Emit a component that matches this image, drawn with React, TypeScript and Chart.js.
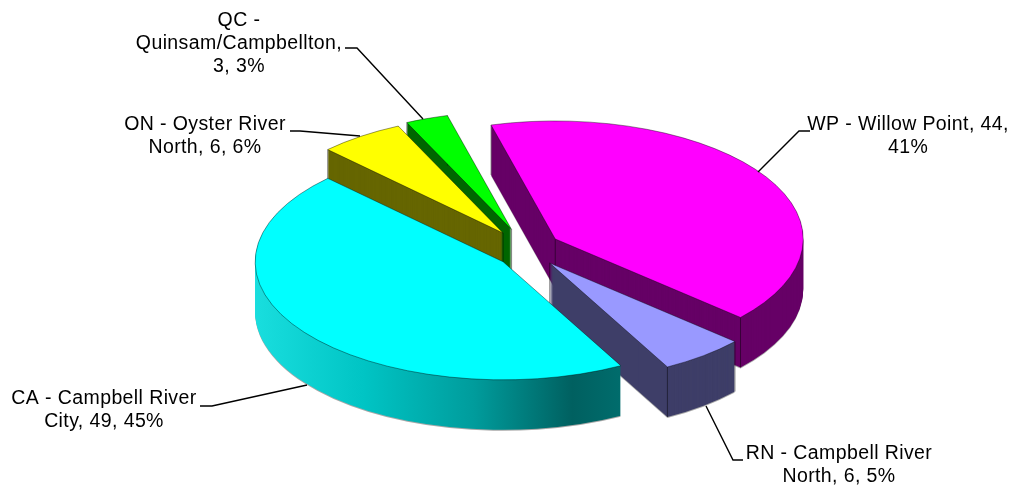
import React, { useEffect, useRef } from "react";
import { Chart, registerables } from "chart.js";

Chart.register(...registerables);

const categories = [
  "WP - Willow Point",
  "RN - Campbell River North",
  "CA - Campbell River City",
  "ON - Oyster River North",
  "QC - Quinsam/Campbellton",
];
const values = [44, 6, 49, 6, 3];
const percents = [41, 5, 45, 6, 3];
const topColors = ["#ff00ff", "#9999ff", "#00ffff", "#ffff00", "#00ff00"];
const sideColors = ["#660066", "#3e3e68", "#00a0a0", "#666600", "#006600"];
const labelLines = [
  [`WP - Willow Point, ${values[0]},`, `${percents[0]}%`],
  ["RN - Campbell River", `North, ${values[1]}, ${percents[1]}%`],
  ["CA - Campbell River", `City, ${values[2]}, ${percents[2]}%`],
  ["ON - Oyster River", `North, ${values[3]}, ${percents[3]}%`],
  ["QC -", "Quinsam/Campbellton,", `${values[4]}, ${percents[4]}%`],
];
// layout
const labelCenters = [
  [908, 125],
  [839, 454],
  [104, 399],
  [205, 125],
  [239, 21],
];
const leaders = [
  [[810, 131], [799, 131], [758, 172]],
  [[743, 460], [733, 460], [706, 406]],
  [[200, 406], [212, 406], [307, 385]],
  [[290, 131], [300, 131], [360, 136]],
  [[345, 48], [357, 48], [423, 119]],
];
const explode = [32, 35, 31, 43.5, 48];
const lift = [-4, -1, 2, -1, 0];
const drawOrder = [0, 4, 3, 1, 2];
const CX = 528;
const CY = 251;
const SQUASH = 0.476;
const DEPTH = 50;
const RADIUS = 248;

const pie3d = {
  id: "pie3d",
  beforeDatasetsDraw(chart: any) {
    const ctx = chart.ctx;
    const arcs = chart.getDatasetMeta(0).data;
    for (const i of drawOrder) {
      const arc = arcs[i];
      const orig = arc.options;
      const half = (arc.startAngle + arc.endAngle) / 2;
      const off = explode[i];
      const cy = CY + lift[i];
      const place = (d: number) => {
        ctx.translate(CX, cy + d);
        ctx.scale(1, SQUASH);
        ctx.translate(-arc.x, -arc.y);
        ctx.translate(Math.cos(half) * off, Math.sin(half) * off);
      };
      let side: any = sideColors[i];
      if (i === 2) {
        const shift = CX - arc.x + Math.cos(half) * off;
        const g = ctx.createLinearGradient(255 - shift, 0, 620 - shift, 0);
        g.addColorStop(0, "#19dede");
        g.addColorStop(0.3, "#00c4c4");
        g.addColorStop(0.6, "#009c9c");
        g.addColorStop(0.87, "#006060");
        g.addColorStop(1, "#006c6c");
        side = g;
      }
      const wall = (d: number, color: any) => {
        arc.options = { ...orig, backgroundColor: color, borderWidth: 0 };
        ctx.save();
        place(d);
        arc.draw(ctx);
        ctx.restore();
      };
      wall(DEPTH + 1, "#a8a8a8");
      for (let d = DEPTH; d >= 1; d--) wall(d, side);
      arc.options = orig;

      // vertical corner edges of the wedge wall
      if (i !== 2) {
        const ox = Math.cos(half) * off;
        const oy = Math.sin(half) * off;
        const corners = [
          [ox, oy],
          [ox + Math.cos(arc.startAngle) * RADIUS, oy + Math.sin(arc.startAngle) * RADIUS],
          [ox + Math.cos(arc.endAngle) * RADIUS, oy + Math.sin(arc.endAngle) * RADIUS],
        ];
        ctx.save();
        ctx.strokeStyle = "rgba(0,0,0,0.45)";
        ctx.lineWidth = 1;
        for (const [px, py] of corners) {
          const sx = CX + px;
          const sy = cy + py * SQUASH;
          ctx.beginPath();
          ctx.moveTo(sx, sy);
          ctx.lineTo(sx, sy + DEPTH);
          ctx.stroke();
        }
        ctx.restore();
      }

      ctx.save();
      place(0);
      arc.draw(ctx);
      ctx.restore();
    }
    return false;
  },
  afterDraw(chart: any) {
    const ctx = chart.ctx;
    ctx.save();
    ctx.strokeStyle = "#000000";
    ctx.lineWidth = 1.4;
    for (const pts of leaders) {
      ctx.beginPath();
      pts.forEach(([x, y], k) => (k ? ctx.lineTo(x, y) : ctx.moveTo(x, y)));
      ctx.stroke();
    }
    ctx.fillStyle = "#000000";
    ctx.font = '19.5px "Liberation Sans"';
    ctx.textAlign = "center";
    ctx.textBaseline = "middle";
    ctx.letterSpacing = "0.4px";
    labelLines.forEach((lines, i) => {
      lines.forEach((line, k) => {
        ctx.fillText(line, labelCenters[i][0], labelCenters[i][1] + k * 23);
      });
    });
    ctx.restore();
  },
};

export default function App() {
  const ref = useRef<HTMLCanvasElement>(null);
  useEffect(() => {
    const chart = new Chart(ref.current!, {
      type: "pie",
      data: {
        labels: categories,
        datasets: [
          {
            data: values,
            backgroundColor: topColors,
            borderColor: "rgba(0,0,0,0.55)",
            borderWidth: 1,
          },
        ],
      },
      options: {
        responsive: false,
        animation: false,
        rotation: -15,
        radius: RADIUS,
        layout: { padding: 0 },
        plugins: { legend: { display: false }, tooltip: { enabled: false } },
      },
      plugins: [pie3d],
    } as any);
    return () => chart.destroy();
  }, []);
  return (
    <canvas
      ref={ref}
      width={1016}
      height={485}
      style={{ position: "fixed", left: 0, top: 0, display: "block", background: "#ffffff" }}
    />
  );
}
